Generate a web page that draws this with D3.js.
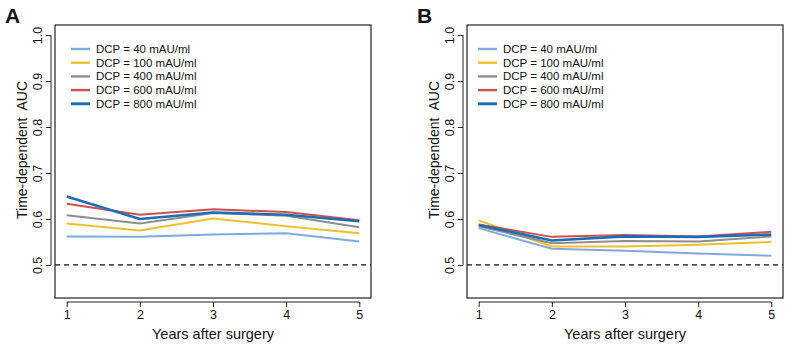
<!DOCTYPE html>
<html>
<head>
<meta charset="utf-8">
<script src="https://cdn.jsdelivr.net/npm/d3@7"></script>
<style>
  body { margin: 0; background: #fff; }
  svg { display: block; font-family: "Liberation Sans", Arial, sans-serif; }
  .axis path, .axis line { stroke: #222; }
  .axis text { fill: #111; font-size: 12.5px; }
</style>
</head>
<body>
<svg id="chart" width="790" height="348"></svg>
<script>
// data
const years = [1, 2, 3, 4, 5];
const seriesLabels = ["DCP = 40 mAU/ml", "DCP = 100 mAU/ml", "DCP = 400 mAU/ml", "DCP = 600 mAU/ml", "DCP = 800 mAU/ml"];
const seriesColors = ["#82a9dc", "#f0c12c", "#8e8e8e", "#d0504d", "#1f6db4"];
const seriesWidths = [2, 2, 2, 2, 2.6];
const yTicks = [0.5, 0.6, 0.7, 0.8, 0.9, 1.0];

const aucA40  = [0.562, 0.561, 0.566, 0.569, 0.551];
const aucA100 = [0.590, 0.575, 0.601, 0.584, 0.569];
const aucA400 = [0.608, 0.590, 0.613, 0.607, 0.582];
const aucA600 = [0.633, 0.609, 0.621, 0.615, 0.597];
const aucA800 = [0.649, 0.600, 0.614, 0.609, 0.595];

const aucB40  = [0.580, 0.535, 0.531, 0.525, 0.520];
const aucB100 = [0.597, 0.540, 0.540, 0.544, 0.550];
const aucB400 = [0.584, 0.547, 0.552, 0.551, 0.562];
const aucB600 = [0.588, 0.561, 0.565, 0.562, 0.572];
const aucB800 = [0.587, 0.553, 0.562, 0.561, 0.566];

const panels = [
  {letter: "A", left: 55, series: [aucA40, aucA100, aucA400, aucA600, aucA800]},
  {letter: "B", left: 467, series: [aucB40, aucB100, aucB400, aucB600, aucB800]}
];

const svg = d3.select("svg#chart");
const boxW = 316, boxTop = 25, boxH = 273;

panels.forEach(p => {
  const g = svg.append("g").attr("transform", "translate(" + p.left + "," + boxTop + ")");

  // R style: 4% padding on each side
  const x = d3.scaleLinear().domain([1 - 0.16, 5 + 0.16]).range([0, boxW]);
  const y = d3.scaleLinear().domain([0.45 - 0.022, 1.0 + 0.022]).range([boxH, 0]);

  // reference line at 0.5
  g.append("line")
    .attr("x1", 0).attr("x2", boxW)
    .attr("y1", y(0.5)).attr("y2", y(0.5))
    .attr("stroke", "#111").attr("stroke-width", 1.1)
    .attr("stroke-dasharray", "5,4");

  const line = d3.line().x((d, i) => x(years[i])).y(d => y(d));
  p.series.forEach((s, k) => {
    g.append("path").datum(s)
      .attr("d", line)
      .attr("fill", "none")
      .attr("stroke", seriesColors[k])
      .attr("stroke-width", seriesWidths[k])
      .attr("stroke-linejoin", "round");
  });

  // box
  g.append("rect").attr("width", boxW).attr("height", boxH)
    .attr("fill", "none").attr("stroke", "#222").attr("stroke-width", 1.2);

  // axes
  const xAxis = g.append("g").attr("class", "axis")
    .attr("transform", "translate(0," + (boxH + 4) + ")")
    .call(d3.axisBottom(x).tickValues(years).tickFormat(d3.format("d")).tickSize(5).tickPadding(3));
  xAxis.select(".domain").attr("d", "M" + x(1) + ",0H" + x(5));

  const yAxis = g.append("g").attr("class", "axis")
    .attr("transform", "translate(-4,0)")
    .call(d3.axisLeft(y).tickValues(yTicks).tickFormat(d3.format(".1f")).tickSize(5).tickPadding(3));
  yAxis.select(".domain").attr("d", "M0," + y(0.5) + "V" + y(1.0));
  yAxis.selectAll(".tick text")
    .attr("transform", "rotate(-90)")
    .attr("x", 0).attr("y", -13)
    .attr("dy", "0.35em")
    .attr("text-anchor", "middle");

  // titles
  g.append("text")
    .attr("x", boxW / 2).attr("y", boxH + 41)
    .attr("text-anchor", "middle")
    .style("font-size", "14.5px").attr("fill", "#111")
    .text("Years after surgery");
  g.append("text")
    .attr("transform", "translate(-28," + (y(0.75)) + ") rotate(-90)")
    .attr("text-anchor", "middle")
    .style("font-size", "14px").style("white-space", "pre").attr("fill", "#111")
    .text("Time-dependent  AUC");

  svg.append("text")
    .attr("x", p.left - 50).attr("y", 23)
    .style("font-size", "21px").style("font-weight", "bold").attr("fill", "#111")
    .text(p.letter);

  // legend
  const leg = g.append("g").attr("transform", "translate(" + (p.letter === "A" ? 16 : 11) + ",24)");
  seriesLabels.forEach((lab, k) => {
    const row = leg.append("g").attr("transform", "translate(0," + (k * 13.7) + ")");
    row.append("line").attr("x1", 0).attr("x2", 19)
      .attr("stroke", seriesColors[k]).attr("stroke-width", seriesWidths[k] + 0.4);
    row.append("text").attr("x", 25).attr("dy", "0.35em")
      .style("font-size", "11.5px").attr("fill", "#111")
      .text(lab);
  });
});
</script>
</body>
</html>
